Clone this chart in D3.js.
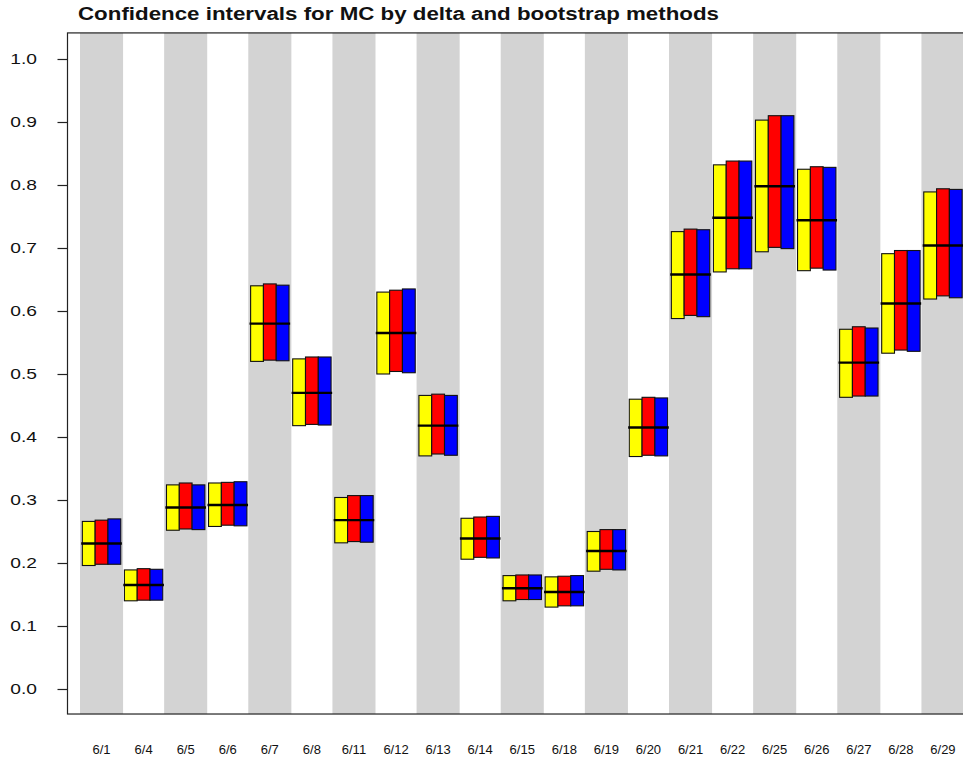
<!DOCTYPE html>
<html>
<head>
<meta charset="utf-8">
<script src="https://cdn.jsdelivr.net/npm/d3@7"></script>
<style>
  body { margin: 0; background: white; }
  svg { display: block; font-family: "Liberation Sans", Arial, sans-serif; }
</style>
</head>
<body>
<div id="graphicContainer"></div>
<script>
// dates on the x axis
var dates = ["6/1","6/4","6/5","6/6","6/7","6/8","6/11","6/12","6/13","6/14","6/15",
             "6/18","6/19","6/20","6/21","6/22","6/25","6/26","6/27","6/28","6/29"];

// point estimate of MC
var estimate = [0.231,0.165,0.288,0.292,0.580,0.470,0.268,0.565,0.418,0.239,0.160,
                0.154,0.219,0.415,0.658,0.748,0.798,0.744,0.518,0.612,0.704];

// delta method interval
var deltaLo = [0.196,0.140,0.252,0.258,0.520,0.418,0.232,0.500,0.370,0.206,0.140,
               0.130,0.187,0.369,0.588,0.662,0.694,0.664,0.463,0.533,0.619];
var deltaHi = [0.266,0.189,0.324,0.327,0.640,0.524,0.304,0.630,0.466,0.271,0.180,
               0.178,0.250,0.460,0.726,0.832,0.903,0.825,0.571,0.691,0.789];

// bootstrap interval 1
var boot1Lo = [0.198,0.141,0.254,0.260,0.522,0.420,0.234,0.504,0.373,0.209,0.142,
               0.132,0.190,0.371,0.593,0.667,0.701,0.668,0.465,0.538,0.624];
var boot1Hi = [0.268,0.191,0.327,0.328,0.643,0.527,0.307,0.633,0.468,0.273,0.181,
               0.179,0.253,0.463,0.730,0.838,0.910,0.829,0.575,0.696,0.794];

// bootstrap interval 2
var boot2Lo = [0.198,0.141,0.253,0.259,0.521,0.419,0.233,0.502,0.371,0.208,0.142,
               0.132,0.189,0.370,0.591,0.667,0.699,0.665,0.465,0.536,0.621];
var boot2Hi = [0.270,0.190,0.324,0.329,0.641,0.527,0.307,0.635,0.466,0.274,0.181,
               0.180,0.253,0.462,0.729,0.838,0.910,0.828,0.573,0.696,0.793];

var methods = ["delta", "boot1", "boot2"];
var methodColours = ["#ffff00", "#ff0000", "#0000ff"];
var yTicks = [0, 0.1, 0.2, 0.3, 0.4, 0.5, 0.6, 0.7, 0.8, 0.9, 1.0];

var width = 963, height = 759;

var svg = d3.select("#graphicContainer").append("svg")
    .attr("width", width)
    .attr("height", height);

var x = d3.scaleBand().domain(dates).range([80.5, 964]).padding(0);
var y = d3.scaleLinear().domain([0, 1]).range([689, 59]);

var plotTop = y(1.0414), plotBottom = y(-0.0397), plotLeft = 67.5;

// alternating grey bands
svg.append("g")
  .selectAll("rect")
  .data(dates.filter((d, i) => i % 2 == 0))
  .enter()
  .append("rect")
  .attr("x", d => x(d) - 0.5)
  .attr("y", plotTop)
  .attr("width", x.bandwidth() + 1)
  .attr("height", plotBottom - plotTop)
  .attr("fill", "#d3d3d3");

// boxes
var boxW = 12.8;
var inner = d3.scaleBand().domain(methods).range([-1.5 * boxW, 1.5 * boxW]);
var lows = [deltaLo, boot1Lo, boot2Lo];
var highs = [deltaHi, boot1Hi, boot2Hi];

var rows = [];
dates.forEach(function(d, i) {
  methods.forEach(function(m, k) {
    rows.push({date: d, method: m, lo: lows[k][i], hi: highs[k][i], colour: methodColours[k]});
  });
});

svg.append("g")
  .selectAll("rect")
  .data(rows)
  .enter()
  .append("rect")
  .attr("x", d => x(d.date) + x.bandwidth() / 2 + inner(d.method))
  .attr("y", d => y(d.hi))
  .attr("width", inner.bandwidth())
  .attr("height", d => y(d.lo) - y(d.hi))
  .attr("fill", d => d.colour)
  .attr("stroke", "#111")
  .attr("stroke-width", 1.1);

// estimate line
svg.append("g")
  .selectAll("line")
  .data(dates)
  .enter()
  .append("line")
  .attr("x1", d => x(d) + x.bandwidth() / 2 - 20.3)
  .attr("x2", d => x(d) + x.bandwidth() / 2 + 20.3)
  .attr("y1", (d, i) => y(estimate[i]))
  .attr("y2", (d, i) => y(estimate[i]))
  .attr("stroke", "black")
  .attr("stroke-width", 2.4);

// frame (right side runs off the page)
svg.append("rect")
  .attr("x", plotLeft)
  .attr("y", plotTop)
  .attr("width", 1000)
  .attr("height", plotBottom - plotTop)
  .attr("fill", "none")
  .attr("stroke", "#222")
  .attr("stroke-width", 1.2);

// y axis
var yAxis = d3.axisLeft(y).tickValues(yTicks).tickSize(10).tickPadding(20)
  .tickFormat(d3.format(".1f"));
var ya = svg.append("g").attr("transform", "translate(" + plotLeft + ",0)").call(yAxis);
ya.select(".domain").remove();
ya.selectAll(".tick line").attr("stroke", "#222").attr("stroke-width", 1.2);
ya.selectAll(".tick text")
  .attr("font-size", 15)
  .attr("font-family", "Liberation Sans, Arial, sans-serif")
  .attr("fill", "#111")
  .attr("x", -30.5)
  .attr("textLength", 26.7)
  .attr("lengthAdjust", "spacingAndGlyphs");

// x labels
svg.append("g")
  .selectAll("text")
  .data(dates)
  .enter()
  .append("text")
  .attr("x", d => x(d) + x.bandwidth() / 2)
  .attr("y", 754)
  .attr("text-anchor", "middle")
  .attr("font-size", 13)
  .attr("fill", "#111")
  .text(d => d);

// title (stretched wide like the original)
svg.append("text")
  .attr("x", 78)
  .attr("y", 20)
  .attr("font-size", 18)
  .attr("font-weight", "bold")
  .attr("fill", "#111")
  .attr("textLength", 641)
  .attr("lengthAdjust", "spacingAndGlyphs")
  .text("Confidence intervals for MC by delta and bootstrap methods");
</script>
</body>
</html>
